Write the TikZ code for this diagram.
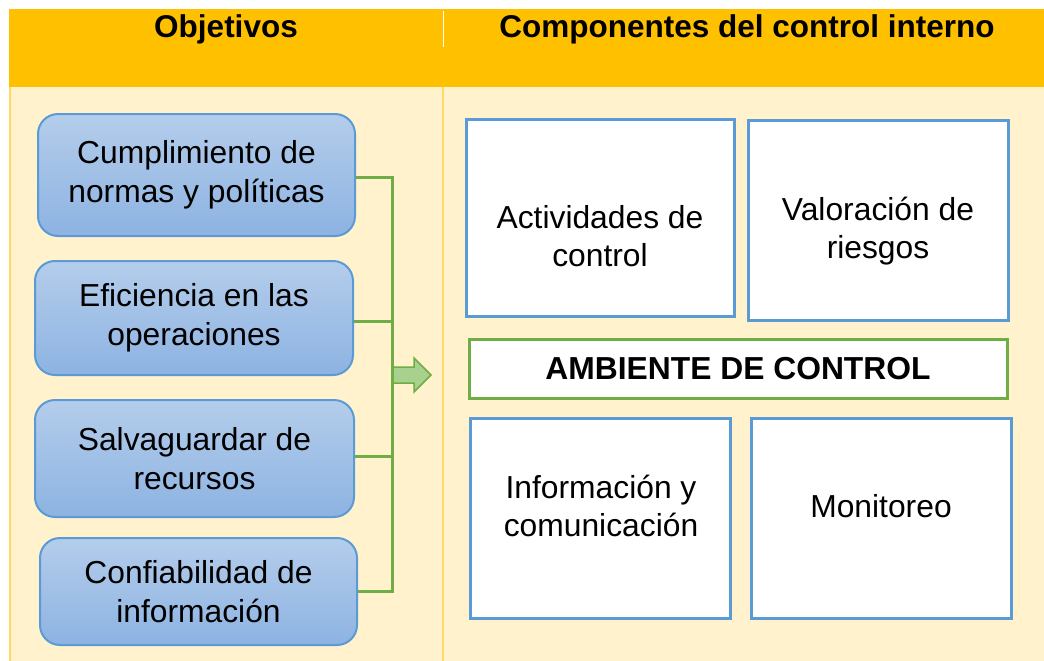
\documentclass[tikz,border=0pt]{standalone}
\usepackage{fontspec}
\setmainfont{Liberation Sans}
\usetikzlibrary{positioning}
\definecolor{hdr}{HTML}{FFC000}
\definecolor{body}{HTML}{FFF2CC}
\definecolor{sepline}{HTML}{FFD966}
\definecolor{bblue}{HTML}{5B9BD5}
\definecolor{objtop}{HTML}{B4CDEB}
\definecolor{objbot}{HTML}{8DB3E2}
\definecolor{gline}{HTML}{70AD47}
\definecolor{gfill}{HTML}{A9D18E}
\begin{document}
\begin{tikzpicture}[x=1pt,y=-1pt,
  txt/.style={font=\fontsize{31.8}{38.5}\selectfont, align=center, inner sep=0pt},
  htxt/.style={font=\fontsize{31.5}{38.5}\selectfont\bfseries, inner sep=0pt},
  objbox/.style={rounded corners=20pt, draw=bblue, line width=2pt, top color=objtop, bottom color=objbot, inner sep=0pt, align=center, font=\fontsize{31.8}{38.5}\selectfont},
  compbox/.style={draw=bblue, line width=3pt, fill=white, inner sep=0pt},
  ambox/.style={draw=gline, line width=3pt, fill=white, inner sep=0pt, font=\fontsize{31.8}{38.5}\selectfont\bfseries},
  bracket/.style={draw=gline, line width=3pt},
  blockarrow/.style={draw=gline, line width=1.5pt, fill=gfill}
]
\useasboundingbox (0,0) rectangle (1044,661);
% background bands
\fill[white] (0,0) rectangle (1044,661);
\fill[body] (9,87) rectangle (1044,661);
\fill[hdr] (9,9) rectangle (1044,87);
\draw[sepline, line width=2pt] (10,87) -- (10,661);
\draw[sepline, line width=2pt] (443,87) -- (443,661);
\draw[white, line width=1pt] (443,11) -- (443,47);
% headers
\node[htxt] (h1) at (226,29) {Objetivos};
\node[htxt] (h2) at (747,29) {Componentes del control interno};
% objectives
\node[objbox, minimum width=317pt, minimum height=122pt] (o1) at (196.5,175) {Cumplimiento de\\normas y políticas};
\node[objbox, minimum width=318pt, minimum height=114pt] (o2) at (194,318) {Eficiencia en las\\operaciones};
\node[objbox, minimum width=319pt, minimum height=117pt] (o3) at (194.5,458.5) {Salvaguardar de\\recursos};
\node[objbox, minimum width=317pt, minimum height=107pt] (o4) at (198.5,591.5) {Confiabilidad de\\información};
% bracket
\coordinate (bt) at (392,177);
\coordinate (bb) at (392,591);
\draw[bracket] (o1.east |- bt) -- (bt);
\draw[bracket] (o2.east) ++(0,3.5) coordinate (t2) -- (t2 -| bt) -- ++(2,0);
\draw[bracket] (o3.east) ++(0,-2.5) coordinate (t3) -- (t3 -| bt) -- ++(2,0);
\draw[bracket] (o4.east |- bb) -- (bb);
\draw[bracket, line cap=rect] (bt) -- (bb);
% block arrow
\coordinate (ab) at (393,375);
\draw[blockarrow] (ab) ++(0,-8) -- ++(21,0) -- ++(0,-9) -- (431,375) -- (414,392) -- ++(0,-9) -- ++(-21,0) -- cycle;
% components
\node[compbox, minimum width=268pt, minimum height=197pt] (c1) at (600,217.5) {};
\node[txt] (c1t) at (600,236) {Actividades de\\control};
\node[compbox, minimum width=260pt, minimum height=200pt] (c2) at (878,220) {};
\node[txt] (c2t) at (878,231) {Valoración de\\riesgos};
\node[ambox, minimum width=538pt, minimum height=59pt] (amb) at (738,368.5) {AMBIENTE DE CONTROL};
\node[compbox, minimum width=260pt, minimum height=200pt] (c3) at (600,518) {};
\node[txt] (c3t) at (601,506) {Información y\\comunicación};
\node[compbox, minimum width=260pt, minimum height=200pt] (c4) at (881,518) {};
\node[txt] (c4t) at (881,506) {Monitoreo};
\end{tikzpicture}
\end{document}
